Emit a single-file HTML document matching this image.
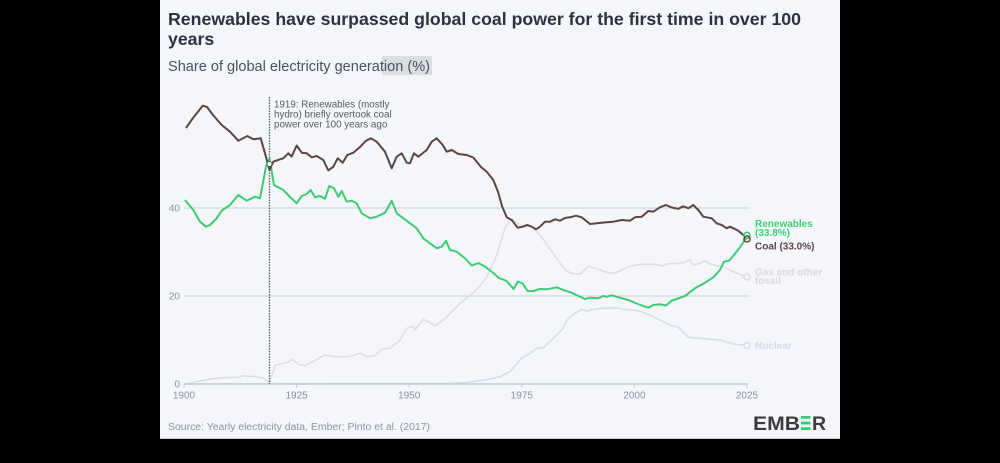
<!DOCTYPE html>
<html><head><meta charset="utf-8"><style>
html,body{margin:0;padding:0;background:#000;}
svg{display:block;font-family:"Liberation Sans",sans-serif;}
</style></head><body>
<svg width="1000" height="463" viewBox="0 0 1000 463" xmlns="http://www.w3.org/2000/svg">
<rect x="0" y="0" width="1000" height="463" fill="#000"/>
<rect x="160" y="0" width="680" height="439" fill="#f5f6fa"/>
<rect x="160" y="438" width="680" height="1" fill="#c9ccd3"/>
<!-- title -->
<text x="168" y="25" font-size="17.7" font-weight="bold" fill="#2d3240" textLength="633" lengthAdjust="spacingAndGlyphs">Renewables have surpassed global coal power for the first time in over 100</text>
<text x="168" y="45" font-size="17.7" font-weight="bold" fill="#2d3240">years</text>
<rect x="382" y="56" width="50" height="19" fill="#dcdde0"/>
<text x="168" y="71" font-size="14.5" fill="#4b505c" textLength="262" lengthAdjust="spacingAndGlyphs">Share of global electricity generation (%)</text>
<!-- grid -->
<line x1="184" y1="296" x2="750" y2="296" stroke="#c9cfdb" stroke-width="1"/>
<line x1="184" y1="208" x2="750" y2="208" stroke="#c9cfdb" stroke-width="1"/>
<!-- y labels -->
<g font-size="10" fill="#8c919c" text-anchor="end">
<text x="180" y="211.5">40</text>
<text x="180" y="299.5">20</text>
<text x="180" y="387.5">0</text>
</g>
<!-- series -->
<polyline fill="none" stroke="#d7dce8" stroke-width="1.5" stroke-linejoin="round" points="184,384 446.7,383.5 466.7,382.5 486.7,379.5 500,376.7 510,371.7 521.7,358.3 530,353.3 536.7,348.3 543.3,347.7 553.3,338.3 561.7,330 568.3,318.3 575,313.3 581.7,309.3 586.7,311 593.3,309.3 603.3,308.3 616.7,307.7 623.3,309.3 633.3,310 640,311 646.7,314 653.3,316.7 663.3,321.7 670,325 678.3,327.3 688.3,337.3 700,338.3 710,339.3 720,340 733.3,344 747,345.5"/>
<polyline fill="none" stroke="#dedede" stroke-width="1.5" stroke-linejoin="round" points="185,384 196.7,381.7 210,379 223.3,377.7 238.3,377.3 243.3,375.7 256.7,376.7 263.3,378.3 269.5,382.5 275,365.5 283,363.3 288.3,362.3 292.7,359.2 298.3,364.2 305,365.7 310,363.3 316.7,359.5 325,355 335,356.7 345,356.7 351.7,356 360,353.3 366.7,356.7 375,355.7 381.7,349.3 390,348.3 400,340 406.7,328.3 413.3,326 415,330 423.3,319.3 430,322.7 435,326 443.3,320 450,313.3 460,303.3 468.3,296.7 473.3,292.7 480,286 486.7,276.7 491.7,266.7 496.7,255 500.7,241.7 505,228.3 509.3,220 513.3,219.5 521.7,226 531.7,226.7 540,235 548.3,246.7 556.7,258.3 565,270 571.7,273.3 580,274.3 588.3,266.3 596.7,268.8 606.7,272.3 615,273.3 623.3,269 631.7,265.7 641.7,264.3 655,264.3 661.7,266 666.7,264 676.7,263.5 685,262.3 689.3,259.5 693.3,265 700,263.3 705,260.8 710,264 716.7,265.8 723.3,266.7 731.7,271 740,274.3 747,277"/>
<!-- baseline & ticks -->
<line x1="184" y1="384" x2="748" y2="384" stroke="#c4cad6" stroke-width="1.5"/>
<g stroke="#c4cad6" stroke-width="1">
<line x1="184" y1="384" x2="184" y2="388"/>
<line x1="296.6" y1="384" x2="296.6" y2="388"/>
<line x1="409.2" y1="384" x2="409.2" y2="388"/>
<line x1="521.8" y1="384" x2="521.8" y2="388"/>
<line x1="634.4" y1="384" x2="634.4" y2="388"/>
<line x1="747" y1="384" x2="747" y2="388"/>
</g>
<g font-size="10" fill="#8c919c" text-anchor="middle">
<text x="184" y="398.5">1900</text>
<text x="296.6" y="398.5">1925</text>
<text x="409.2" y="398.5">1950</text>
<text x="521.8" y="398.5">1975</text>
<text x="634.4" y="398.5">2000</text>
<text x="747" y="398.5">2025</text>
</g>
<!-- annotation line -->
<line x1="269.5" y1="97" x2="269.5" y2="384" stroke="#555a63" stroke-width="1.3" stroke-dasharray="1.5 1.2"/>
<g font-size="9.8" fill="#555a63">
<text x="274" y="107.3">1919: Renewables (mostly</text>
<text x="274" y="117.5">hydro) briefly overtook coal</text>
<text x="274" y="127.7">power over 100 years ago</text>
</g>
<polyline fill="none" stroke="#3ccc74" stroke-width="2" stroke-linejoin="round" points="185,200 193.3,210 200,221.7 206,226.7 210,225 216.7,218.3 221.7,210.7 230,205 238.3,195 246.7,200.7 255,196.7 260,198.3 266,166.7 269.5,158.3 274,185 283.3,190 290,197 296.7,203.3 301.7,196 306.7,194 310.7,190 315,197.3 320,196 325,198.7 329.3,186 334,188.3 338.3,196.7 341.7,191 346.7,201.7 351.7,200.7 356.7,203.3 361.7,213.3 370,218.3 376.7,216.7 385,212.7 391.7,200.7 396.7,213.3 403.3,218.3 410,223.3 416.7,228.3 423.3,238.3 430,243.3 436.7,248.3 441.7,246.7 446,240.7 450,250 456.7,251.7 465,258.3 471.7,265.5 478.3,263 485,266.5 493.3,273 499,278 506.7,281 513.5,289 518,281.5 522.7,283.5 527.5,291 533.3,291 540,289 546.7,289.3 556.7,287.3 563.3,290 571.7,292.7 578.3,296 585,299 590,297.7 598.3,298.3 603.3,296 606.7,296.7 611.7,295.3 620,297.7 628.3,300 636.7,303.5 643.3,306 648.3,307.7 653.3,305 660,304.3 666,305.5 671.7,300.7 685,296 695,288.3 705,282.7 713.3,277.3 720,270 724,261.7 729.3,260.5 736.7,251.7 742.7,243.3 747,235.3"/>
<polyline fill="none" stroke="#5c4642" stroke-width="2" stroke-linejoin="round" points="186,128 193,118 202.7,105.7 207,107 213,115 221.7,125 230,131.7 238.3,140.7 247.3,136 253.3,139.3 260.7,138.3 265,153.3 269.5,170 273.3,161.7 280,159.3 283.3,158.3 288.3,153.3 291.7,156.5 296.7,145.5 301.7,152.7 306.7,153.3 311.7,157.3 316.7,156 323.3,160 328.3,170.5 333.3,166.7 337.7,158.3 342.7,162.7 347.3,155 353.3,152.7 360,147 366,140.7 371,138.3 376.7,141.7 385,151.7 391.7,168.3 396.7,156.7 401.7,153.3 406.7,162.7 410,163.3 414,153.3 418.3,156.7 426.7,150 431.7,141.7 436.7,138.3 442.7,145 446.7,151.7 451.7,150 458.3,154 466.7,155 473.3,157.5 481,167 487,172 493.3,180 498,191.7 502,206 506.7,217.3 511.7,220 517.7,227.7 522.7,226.7 527.3,225 531.7,226.7 536,229.3 540,226.7 545,221.7 550,221.7 555,219.3 560,220.7 565,218 570,217.3 576,215.7 581.7,217.3 590,224 596.7,223.3 606.7,222.3 613.3,221.7 621.7,220 630,220.7 635,217.3 641.7,216.7 648.3,211 653.3,211.7 660,207.3 666,205 671.7,207.5 678.3,208.8 683.3,206.3 688.3,208.3 693.3,205 698.3,210 703.3,216.7 711.7,218.3 716.7,223.3 721.7,225 726.7,228.3 730,226.7 738.3,230.7 743.3,235 747,239"/>
<!-- 1919 markers -->
<circle cx="269.5" cy="164" r="2.5" fill="#f5f6fa" stroke="#555a63" stroke-width="1"/>
<!-- end markers -->
<circle cx="747" cy="345.5" r="3" fill="#f5f6fa" stroke="#d7dce8" stroke-width="1.5"/>
<circle cx="747" cy="277" r="3" fill="#f5f6fa" stroke="#dadada" stroke-width="1.5"/>
<circle cx="747" cy="235.3" r="3" fill="#f5f6fa" stroke="#3ccc74" stroke-width="1.5"/>
<circle cx="747" cy="239" r="3" fill="none" stroke="#5c4642" stroke-width="1.5"/>
<!-- end labels -->
<g font-size="10" font-weight="bold">
<text x="755" y="227" fill="#3ecf77">Renewables</text>
<text x="755" y="236" fill="#3ecf77">(33.8%)</text>
<text x="755" y="249.5" fill="#5c4642">Coal (33.0%)</text>
<text x="755" y="275.5" fill="#dadada">Gas and other</text>
<text x="755" y="284" fill="#dadada">fossil</text>
<text x="755" y="349" fill="#d6dbe6">Nuclear</text>
</g>
<!-- source -->
<text x="168" y="430" font-size="10" fill="#8d93a3" textLength="262" lengthAdjust="spacingAndGlyphs">Source: Yearly electricity data, Ember; Pinto et al. (2017)</text>
<!-- logo -->
<text x="753" y="430" font-size="19.5" font-weight="bold" fill="#3c3c3c" textLength="47" lengthAdjust="spacingAndGlyphs">EMB</text>
<rect x="801" y="416" width="9.5" height="2.7" fill="#2fcf72"/>
<rect x="801" y="421.7" width="9.5" height="2.7" fill="#2fcf72"/>
<rect x="801" y="427.3" width="9.5" height="2.7" fill="#2fcf72"/>
<text x="812" y="430" font-size="19.5" font-weight="bold" fill="#3c3c3c">R</text>
</svg>
</body></html>
